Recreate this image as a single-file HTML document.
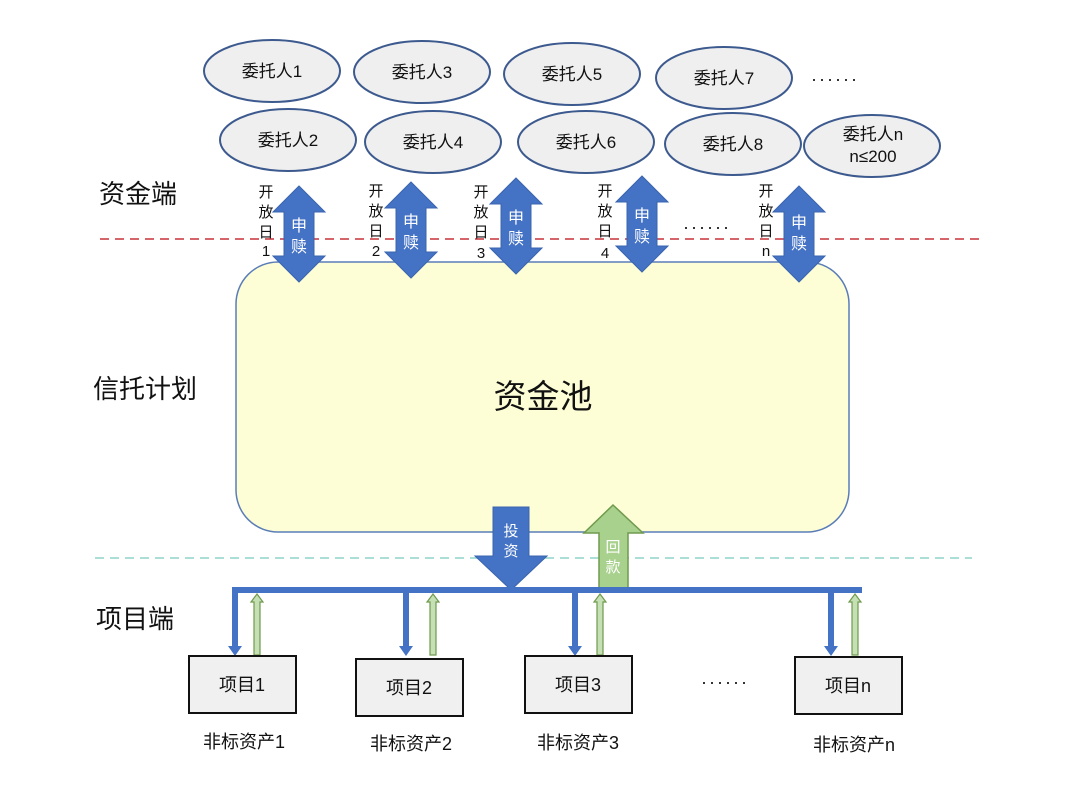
<!DOCTYPE html>
<html><head><meta charset="utf-8"><style>
html,body{margin:0;padding:0;background:#fff;}
svg{display:block;font-family:"Liberation Sans","Noto Sans CJK SC",sans-serif;}
</style></head><body>
<svg width="1072" height="793" viewBox="0 0 1072 793" xmlns="http://www.w3.org/2000/svg">
<defs>
<symbol id="dbl" overflow="visible">
<path d="M0,-48 L26,-22 L15,-22 L15,22 L26,22 L0,48 L-26,22 L-15,22 L-15,-22 L-26,-22 Z" fill="#4472c4" stroke="#3a64ad" stroke-width="1"/>
</symbol>
</defs>
<!-- ellipses -->
<g fill="#efefef" stroke="#3d5a8f" stroke-width="2" font-size="17" text-anchor="middle">
<ellipse cx="272" cy="71" rx="68" ry="31"/>
<ellipse cx="422" cy="72" rx="68" ry="31"/>
<ellipse cx="572" cy="74" rx="68" ry="31"/>
<ellipse cx="724" cy="78" rx="68" ry="31"/>
<ellipse cx="288" cy="140" rx="68" ry="31"/>
<ellipse cx="433" cy="142" rx="68" ry="31"/>
<ellipse cx="586" cy="142" rx="68" ry="31"/>
<ellipse cx="733" cy="144" rx="68" ry="31"/>
<ellipse cx="872" cy="146" rx="68" ry="31"/>
</g>
<g font-size="17" text-anchor="middle" fill="#111">
<text x="272" y="77">委托人1</text>
<text x="422" y="78">委托人3</text>
<text x="572" y="80">委托人5</text>
<text x="724" y="84">委托人7</text>
<text x="288" y="146">委托人2</text>
<text x="433" y="148">委托人4</text>
<text x="586" y="148">委托人6</text>
<text x="733" y="150">委托人8</text>
<text x="873" y="140">委托人n</text>
<text x="873" y="162">n≤200</text>
<text x="835" y="85" font-size="18" letter-spacing="2">······</text>
<text x="707" y="233" font-size="18" letter-spacing="2">······</text>
<text x="725" y="688" font-size="18" letter-spacing="2">······</text>
</g>
<!-- left labels -->
<g font-size="26" fill="#111" text-anchor="middle">
<text x="138" y="203">资金端</text>
<text x="145" y="398">信托计划</text>
<text x="135" y="628">项目端</text>
</g>
<!-- pool -->
<rect x="236" y="262" width="613" height="270" rx="42" fill="#fefed6" stroke="#5a7db8" stroke-width="1.5"/>
<text x="543" y="408" font-size="33" text-anchor="middle" fill="#111">资金池</text>
<!-- dashed lines -->
<line x1="100" y1="239" x2="980" y2="239" stroke="#c8303a" stroke-width="1.5" stroke-dasharray="9,6"/>
<line x1="95" y1="558" x2="972" y2="558" stroke="#8fd3c8" stroke-width="1.5" stroke-dasharray="9,6"/>
<!-- double arrows -->
<use href="#dbl" x="299" y="234"/>
<use href="#dbl" x="411" y="230"/>
<use href="#dbl" x="516" y="226"/>
<use href="#dbl" x="642" y="224"/>
<use href="#dbl" x="799" y="234"/>
<g font-size="16" fill="#fff" text-anchor="middle">
<text x="299" y="231">申</text><text x="299" y="252">赎</text>
<text x="411" y="227">申</text><text x="411" y="248">赎</text>
<text x="516" y="223">申</text><text x="516" y="244">赎</text>
<text x="642" y="221">申</text><text x="642" y="242">赎</text>
<text x="799" y="228">申</text><text x="799" y="249">赎</text>
</g>
<g font-size="15" fill="#111" text-anchor="middle">
<text x="266" y="197">开</text><text x="266" y="217">放</text><text x="266" y="237">日</text><text x="266" y="256">1</text>
<text x="376" y="196">开</text><text x="376" y="216">放</text><text x="376" y="236">日</text><text x="376" y="256">2</text>
<text x="481" y="197">开</text><text x="481" y="217">放</text><text x="481" y="237">日</text><text x="481" y="258">3</text>
<text x="605" y="196">开</text><text x="605" y="216">放</text><text x="605" y="236">日</text><text x="605" y="258">4</text>
<text x="766" y="196">开</text><text x="766" y="216">放</text><text x="766" y="236">日</text><text x="766" y="256">n</text>
</g>
<!-- invest arrow -->
<path d="M493,507 L529,507 L529,556 L547,556 L511,590 L475,556 L493,556 Z" fill="#4472c4" stroke="#3a64ad"/>
<text x="511" y="536" font-size="15" fill="#fff" text-anchor="middle">投</text>
<text x="511" y="556" font-size="15" fill="#fff" text-anchor="middle">资</text>
<!-- return arrow -->
<path d="M613,505 L643,533 L628,533 L628,590 L599,590 L599,533 L584,533 Z" fill="#a9d18e" stroke="#6f9a4e" stroke-width="1.5"/>
<text x="613" y="552" font-size="15" fill="#fff" text-anchor="middle">回</text>
<text x="613" y="572" font-size="15" fill="#fff" text-anchor="middle">款</text>
<!-- bus -->
<rect x="232" y="587" width="630" height="6" fill="#4472c4"/>
<!-- small arrows -->
<g fill="#4472c4">
<path d="M232,590 h6 v56 h4 l-7,10 l-7,-10 h4 Z"/>
<path d="M403,593 h6 v53 h4 l-7,10 l-7,-10 h4 Z"/>
<path d="M572,593 h6 v53 h4 l-7,10 l-7,-10 h4 Z"/>
<path d="M828,593 h6 v53 h4 l-7,10 l-7,-10 h4 Z"/>
</g>
<g fill="#c5e0b4" stroke="#6f9a4e" stroke-width="1.2">
<path d="M257,594 l6,8 h-3 v53 h-6 v-53 h-3 Z"/>
<path d="M433,594 l6,8 h-3 v53 h-6 v-53 h-3 Z"/>
<path d="M600,594 l6,8 h-3 v53 h-6 v-53 h-3 Z"/>
<path d="M855,594 l6,8 h-3 v53 h-6 v-53 h-3 Z"/>
</g>
<!-- project boxes -->
<g fill="#f0f0f0" stroke="#111" stroke-width="2">
<rect x="189" y="656" width="107" height="57"/>
<rect x="356" y="659" width="107" height="57"/>
<rect x="525" y="656" width="107" height="57"/>
<rect x="795" y="657" width="107" height="57"/>
</g>
<g font-size="18" fill="#111" text-anchor="middle">
<text x="242" y="691">项目1</text>
<text x="409" y="694">项目2</text>
<text x="578" y="691">项目3</text>
<text x="848" y="692">项目n</text>
</g>
<g font-size="18" fill="#111" text-anchor="middle">
<text x="244" y="748">非标资产1</text>
<text x="411" y="750">非标资产2</text>
<text x="578" y="749">非标资产3</text>
<text x="854" y="751">非标资产n</text>
</g>
</svg>
</body></html>
